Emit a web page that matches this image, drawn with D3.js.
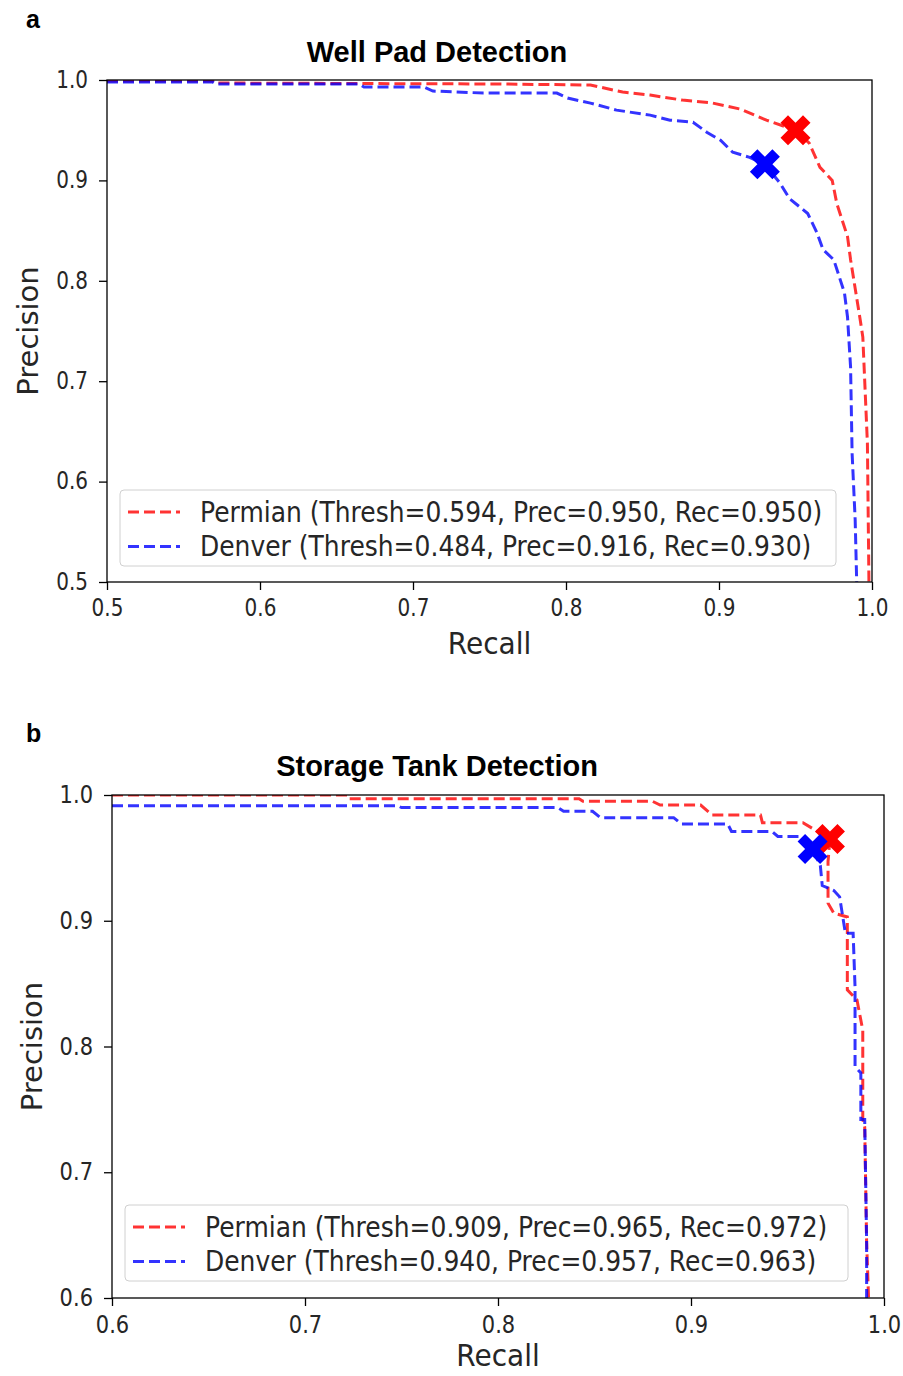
<!DOCTYPE html>
<html>
<head>
<meta charset="utf-8">
<script src="https://cdn.jsdelivr.net/npm/d3@7"></script>
<style>
  body { margin: 0; background: #fff; }
  svg { display: block; }
</style>
</head>
<body>
<svg id="chart" width="903" height="1376"></svg>
<script>
// ---- data, panel a: well pad detection (recall, precision) ----
var wellPermian = [
  [0.500, 0.999], [0.569, 0.999], [0.571, 0.997], [0.757, 0.996], [0.816, 0.995],
  [0.837, 0.988], [0.855, 0.985], [0.876, 0.980], [0.896, 0.977], [0.914, 0.971],
  [0.931, 0.960], [0.950, 0.950], [0.959, 0.937], [0.966, 0.913], [0.974, 0.900],
  [0.977, 0.877], [0.984, 0.844], [0.986, 0.821], [0.992, 0.764], [0.994, 0.744],
  [0.997, 0.638], [0.998, 0.500]
];
var wellDenver = [
  [0.500, 0.998], [0.569, 0.998], [0.571, 0.996], [0.665, 0.996], [0.668, 0.993],
  [0.707, 0.993], [0.713, 0.989], [0.746, 0.987], [0.794, 0.987], [0.801, 0.982],
  [0.816, 0.977], [0.833, 0.970], [0.855, 0.965], [0.868, 0.960], [0.883, 0.958],
  [0.892, 0.948], [0.901, 0.940], [0.909, 0.928], [0.920, 0.923], [0.930, 0.916],
  [0.940, 0.897], [0.946, 0.882], [0.958, 0.867], [0.964, 0.848], [0.968, 0.831],
  [0.975, 0.821], [0.982, 0.788], [0.984, 0.764], [0.986, 0.714], [0.987, 0.628],
  [0.989, 0.562], [0.990, 0.500]
];
var wellBest = [
  { name: "Permian", thresh: 0.594, prec: 0.950, rec: 0.950 },
  { name: "Denver", thresh: 0.484, prec: 0.916, rec: 0.930 }
];
var wellTicks = [0.5, 0.6, 0.7, 0.8, 0.9, 1.0];

// ---- data, panel b: storage tank detection ----
var tankPermian = [
  [0.600, 1.000], [0.722, 1.000], [0.723, 0.997], [0.842, 0.997], [0.844, 0.995],
  [0.880, 0.995], [0.884, 0.992], [0.905, 0.992], [0.911, 0.984], [0.936, 0.984],
  [0.937, 0.978], [0.958, 0.978], [0.972, 0.965], [0.971, 0.947], [0.971, 0.914],
  [0.974, 0.906], [0.981, 0.903], [0.981, 0.845], [0.986, 0.837], [0.989, 0.813],
  [0.989, 0.742], [0.990, 0.736], [0.991, 0.644], [0.992, 0.600]
];
var tankDenver = [
  [0.600, 0.9915], [0.748, 0.9915], [0.750, 0.990], [0.831, 0.990], [0.834, 0.987],
  [0.849, 0.987], [0.853, 0.982], [0.891, 0.982], [0.895, 0.977], [0.919, 0.977],
  [0.921, 0.971], [0.942, 0.971], [0.945, 0.967], [0.956, 0.967], [0.963, 0.957],
  [0.967, 0.944], [0.968, 0.928], [0.974, 0.924], [0.977, 0.919], [0.980, 0.890],
  [0.984, 0.890], [0.985, 0.847], [0.985, 0.784], [0.988, 0.779], [0.988, 0.742],
  [0.990, 0.742], [0.991, 0.644], [0.991, 0.600]
];
var tankBest = [
  { name: "Permian", thresh: 0.909, prec: 0.965, rec: 0.972 },
  { name: "Denver", thresh: 0.940, prec: 0.957, rec: 0.963 }
];
var tankTicks = [0.6, 0.7, 0.8, 0.9, 1.0];

var seriesColors = ["#ff0000", "#0000ff"];

var svg = d3.select("#chart");

// filled "X" marker like matplotlib's, unit outline centred at 0
var xOutline = [[-0.25, -0.5], [0, -0.25], [0.25, -0.5], [0.5, -0.25], [0.25, 0], [0.5, 0.25],
  [0.25, 0.5], [0, 0.25], [-0.25, 0.5], [-0.5, 0.25], [-0.25, 0], [-0.5, -0.25]];
function xMarker(size) {
  return d3.line()(xOutline.map(p => [p[0] * size, p[1] * size])) + "Z";
}

// the source figure is a bit taller than wide, stretch text vertically around its anchor
function stretchY(sel, k) {
  sel.each(function() {
    var t = d3.select(this);
    var tx = +t.attr("x") || 0, ty = +t.attr("y") || 0;
    t.attr("transform", "translate(" + tx + "," + ty + ") scale(1," + k + ") translate(" + (-tx) + "," + (-ty) + ")");
  });
}

function drawPanel(cfg) {
  var x = d3.scaleLinear().domain(cfg.domain).range([cfg.left, cfg.right]);
  var y = d3.scaleLinear().domain(cfg.domain).range([cfg.bottom, cfg.top]);
  var g = svg.append("g");

  // panel letter and title
  g.append("text").attr("x", cfg.letterX).attr("y", cfg.letterY)
    .attr("font-family", "Liberation Sans, Arial, sans-serif").attr("font-weight", "bold")
    .attr("font-size", 25).text(cfg.letter);
  g.append("text").attr("x", cfg.titleX).attr("y", cfg.titleY).attr("text-anchor", "middle")
    .attr("font-family", "Liberation Sans, Arial, sans-serif").attr("font-weight", "bold")
    .attr("font-size", 29).text(cfg.title);

  // clip for the curves
  g.append("clipPath").attr("id", "clip-" + cfg.letter)
    .append("rect").attr("x", cfg.left).attr("y", cfg.top)
    .attr("width", cfg.right - cfg.left).attr("height", cfg.bottom - cfg.top);

  var line = d3.line().x(d => x(d[0])).y(d => y(d[1]));
  cfg.curves.forEach(function(c, i) {
    g.append("path").datum(c)
      .attr("clip-path", "url(#clip-" + cfg.letter + ")")
      .attr("d", line).attr("fill", "none")
      .attr("stroke", seriesColors[i]).attr("stroke-opacity", 0.8)
      .attr("stroke-width", 3).attr("stroke-dasharray", "11,5");
  });

  // best-threshold markers
  g.selectAll(".best").data(cfg.best).enter().append("path")
    .attr("transform", d => "translate(" + x(d.rec) + "," + y(d.prec) + ")")
    .attr("d", xMarker(30))
    .attr("fill", (d, i) => seriesColors[i]);

  // axes
  var xAxis = d3.axisBottom(x).tickValues(cfg.ticks).tickFormat(d3.format(".1f"))
    .tickSize(8).tickPadding(cfg.xPad);
  var yAxis = d3.axisLeft(y).tickValues(cfg.ticks).tickFormat(d3.format(".1f"))
    .tickSize(8).tickPadding(cfg.yPad);
  var gx = g.append("g").attr("transform", "translate(0," + cfg.bottom + ")").call(xAxis);
  var gy = g.append("g").attr("transform", "translate(" + cfg.left + ",0)").call(yAxis);
  [gx, gy].forEach(function(a) {
    a.select(".domain").remove();
    a.selectAll("line").attr("stroke", "#000").attr("stroke-width", 1.3);
    a.selectAll("text").attr("font-family", "DejaVu Sans, sans-serif")
      .attr("font-size", cfg.tickSize).attr("fill", "#262626");
  });
  gy.selectAll("text").attr("dy", "0.3em");
  stretchY(gx.selectAll("text"), 1.2);
  stretchY(gy.selectAll("text"), 1.2);

  // frame
  g.append("rect").attr("x", cfg.left).attr("y", cfg.top)
    .attr("width", cfg.right - cfg.left).attr("height", cfg.bottom - cfg.top)
    .attr("fill", "none").attr("stroke", "#000").attr("stroke-width", 1.3);

  // axis labels
  var xl = g.append("text").attr("x", (cfg.left + cfg.right) / 2).attr("y", cfg.xLabelY)
    .attr("text-anchor", "middle").attr("font-family", "DejaVu Sans, sans-serif")
    .attr("font-size", 28).attr("fill", "#262626").text("Recall");
  stretchY(xl, 1.1);
  g.append("text").attr("transform", "translate(" + cfg.yLabelX + "," + (cfg.top + cfg.bottom) / 2 + ") rotate(-90)")
    .attr("text-anchor", "middle").attr("font-family", "DejaVu Sans, sans-serif")
    .attr("font-size", 29).attr("fill", "#262626").text("Precision");

  // legend
  var lg = g.append("g").attr("transform", "translate(" + cfg.legX + "," + cfg.legY + ")");
  lg.append("rect").attr("width", cfg.legW).attr("height", 76).attr("rx", 4)
    .attr("fill", "#fff").attr("fill-opacity", 0.8).attr("stroke", "#d0d0d0");
  cfg.best.forEach(function(d, i) {
    var yy = 22 + i * 34.5;
    lg.append("line").attr("x1", 8).attr("x2", 60).attr("y1", yy).attr("y2", yy)
      .attr("stroke", seriesColors[i]).attr("stroke-opacity", 0.8)
      .attr("stroke-width", 3).attr("stroke-dasharray", "11,5");
    var t = lg.append("text").attr("x", 80).attr("y", yy + 10)
      .attr("font-family", "DejaVu Sans, sans-serif").attr("font-size", 25).attr("fill", "#262626")
      .text(d.name + " (Thresh=" + d.thresh.toFixed(3) + ", Prec=" + d.prec.toFixed(3) +
        ", Rec=" + d.rec.toFixed(3) + ")");
    stretchY(t, 1.1);
  });
}

drawPanel({
  letter: "a", title: "Well Pad Detection", letterX: 26, letterY: 28, titleX: 437, titleY: 62,
  domain: [0.5, 1.0], ticks: wellTicks, curves: [wellPermian, wellDenver], best: wellBest,
  left: 107, right: 872, top: 80, bottom: 582, tickSize: 20, xPad: 9, yPad: 11,
  xLabelY: 654, yLabelX: 38, legX: 120, legY: 490, legW: 716
});

drawPanel({
  letter: "b", title: "Storage Tank Detection", letterX: 26, letterY: 742, titleX: 437, titleY: 776,
  domain: [0.6, 1.0], ticks: tankTicks, curves: [tankPermian, tankDenver], best: tankBest,
  left: 112, right: 884, top: 795, bottom: 1298, tickSize: 21, xPad: 9, yPad: 11,
  xLabelY: 1366, yLabelX: 42, legX: 125, legY: 1205, legW: 723
});
</script>
</body>
</html>
